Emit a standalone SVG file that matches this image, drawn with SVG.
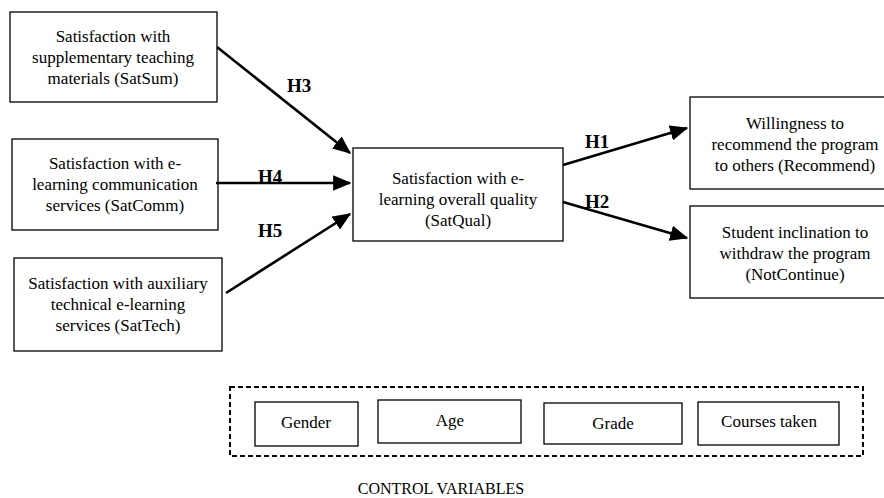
<svg xmlns="http://www.w3.org/2000/svg" width="884" height="498" viewBox="0 0 884 498">
<defs>
<style>
.box{fill:#fff;stroke:#000;stroke-width:1.3}
.t{font-family:"Liberation Serif","Times New Roman",serif;font-size:17px;fill:#000;text-anchor:middle}
.h{font-family:"Liberation Serif","Times New Roman",serif;font-size:19px;font-weight:bold;fill:#000}
.c{stroke:#000;stroke-width:2.6;fill:none;marker-end:url(#ah)}
</style>
<marker id="ah" markerWidth="7" markerHeight="6" refX="6.5" refY="3" orient="auto" markerUnits="strokeWidth">
<path d="M0,0 L7,3 L0,6 Z" fill="#000"/>
</marker>
</defs>
<rect width="884" height="498" fill="#fff"/>
<g id="satsum"><rect class="box" x="10" y="12" width="207" height="90"/>
<text class="t" x="113" y="42">Satisfaction with</text><text class="t" x="113" y="63">supplementary teaching</text><text class="t" x="113" y="84">materials (SatSum)</text></g>
<g id="satcomm"><rect class="box" x="12" y="139" width="206" height="91"/>
<text class="t" x="115" y="169">Satisfaction with e-</text><text class="t" x="115" y="190">learning communication</text><text class="t" x="115" y="211">services (SatComm)</text></g>
<g id="sattech"><rect class="box" x="14" y="258" width="208" height="93"/>
<text class="t" x="118" y="289">Satisfaction with auxiliary</text><text class="t" x="118" y="310">technical e-learning</text><text class="t" x="118" y="331">services (SatTech)</text></g>
<g id="satqual"><rect class="box" x="353" y="148" width="210" height="93"/>
<text class="t" x="458" y="184">Satisfaction with e-</text><text class="t" x="458" y="205">learning overall quality</text><text class="t" x="458" y="226">(SatQual)</text></g>
<g id="recommend"><rect class="box" x="690" y="97" width="210" height="92"/>
<text class="t" x="795" y="129">Willingness to</text><text class="t" x="795" y="150">recommend the program</text><text class="t" x="795" y="171">to others (Recommend)</text></g>
<g id="notcontinue"><rect class="box" x="690" y="206" width="210" height="92"/>
<text class="t" x="795" y="238">Student inclination to</text><text class="t" x="795" y="259">withdraw the program</text><text class="t" x="795" y="280">(NotContinue)</text></g>
<g id="connectors">
<line class="c" x1="217" y1="47" x2="350" y2="153"/>
<line class="c" x1="216" y1="183" x2="350" y2="183"/>
<line class="c" x1="226" y1="293" x2="350" y2="214"/>
<line class="c" x1="563" y1="165" x2="687" y2="128"/>
<line class="c" x1="563" y1="202" x2="687" y2="238"/>
</g>
<g id="labels">
<text class="h" x="287" y="92">H3</text>
<text class="h" x="258" y="183">H4</text>
<text class="h" x="258" y="237">H5</text>
<text class="h" x="585" y="148">H1</text>
<text class="h" x="585" y="208">H2</text>
</g>
<g id="controls">
<rect x="230" y="387" width="633" height="69" fill="none" stroke="#000" stroke-width="2" stroke-dasharray="5,3"/>
<g id="gender"><rect class="box" x="255" y="402" width="103" height="44"/><text class="t" x="306" y="428">Gender</text></g>
<g id="age"><rect class="box" x="378" y="400" width="143" height="43"/><text class="t" x="450" y="426">Age</text></g>
<g id="grade"><rect class="box" x="544" y="403" width="138" height="41"/><text class="t" x="613" y="429">Grade</text></g>
<g id="courses"><rect class="box" x="698" y="402" width="141" height="43"/><text class="t" x="769" y="427">Courses taken</text></g>
<text class="t" x="441" y="494" style="font-size:16px">CONTROL VARIABLES</text>
</g>
</svg>
